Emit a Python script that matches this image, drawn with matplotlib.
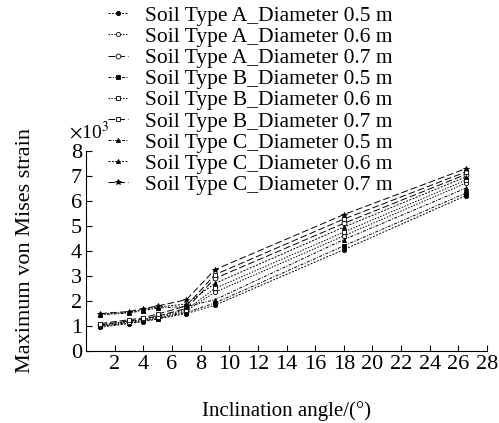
import matplotlib.pyplot as plt
import numpy as np

plt.rcParams['font.family'] = ['Liberation Serif', 'DejaVu Serif']
plt.rcParams['mathtext.fontset'] = 'stix'

angle = [1, 3, 4, 5, 7, 9, 18, 26.5]

# strain values (x10^3)
soil_a_05 = [0.95, 1.10, 1.18, 1.28, 1.50, 1.83, 4.05, 6.20]
soil_a_06 = [1.00, 1.15, 1.22, 1.33, 1.60, 2.35, 4.60, 6.70]
soil_a_07 = [1.05, 1.20, 1.28, 1.40, 1.70, 2.90, 5.10, 7.05]
soil_b_05 = [1.00, 1.12, 1.20, 1.30, 1.55, 1.92, 4.20, 6.30]
soil_b_06 = [1.05, 1.18, 1.27, 1.38, 1.65, 2.50, 4.75, 6.82]
soil_b_07 = [1.10, 1.25, 1.33, 1.48, 1.80, 3.05, 5.27, 7.15]
soil_c_05 = [1.45, 1.52, 1.62, 1.72, 1.78, 2.05, 4.45, 6.50]
soil_c_06 = [1.47, 1.55, 1.66, 1.76, 1.88, 2.70, 4.95, 6.95]
soil_c_07 = [1.50, 1.58, 1.70, 1.80, 2.05, 3.25, 5.45, 7.28]

labels = ['Soil Type A_Diameter 0.5 m', 'Soil Type A_Diameter 0.6 m', 'Soil Type A_Diameter 0.7 m',
          'Soil Type B_Diameter 0.5 m', 'Soil Type B_Diameter 0.6 m', 'Soil Type B_Diameter 0.7 m',
          'Soil Type C_Diameter 0.5 m', 'Soil Type C_Diameter 0.6 m', 'Soil Type C_Diameter 0.7 m']
series = [soil_a_05, soil_a_06, soil_a_07, soil_b_05, soil_b_06, soil_b_07,
          soil_c_05, soil_c_06, soil_c_07]

styles = [
    dict(ls=(0, (2, 1.5)), marker='o', mfc='black', ms=3),
    dict(ls=(0, (1.5, 1.5)), marker='o', mfc='white', ms=3),
    dict(ls=(0, (7, 3)), marker='o', mfc='white', ms=3.5),
    dict(ls=(0, (3, 1.5, 1, 1.5)), marker='s', mfc='black', ms=3),
    dict(ls=(0, (1.5, 1.5)), marker='s', mfc='white', ms=3),
    dict(ls=(0, (7, 3)), marker='s', mfc='white', ms=3.5),
    dict(ls=(0, (3, 1.5, 1, 1.5)), marker='^', mfc='black', ms=3),
    dict(ls=(0, (2, 1.5)), marker='^', mfc='black', ms=3),
    dict(ls=(0, (7, 3)), marker='*', mfc='black', ms=4),
]

fig = plt.figure(figsize=(4.99, 4.23), dpi=100)
ax = fig.add_axes([0.1723, 0.170, 0.8037, 0.4737])

for y, lab, st in zip(series, labels, styles):
    ax.plot(angle, y, color='black', lw=0.7, mec='black', mew=0.6, label=lab, **st)

ax.set_xlim(0, 28)
ax.set_ylim(0, 8)
ax.set_xticks(np.arange(2, 29, 2))
ax.set_yticks(np.arange(0, 9, 1))
ax.tick_params(direction='in', length=4, width=0.8, labelsize=16, pad=3)
ax.spines['top'].set_visible(False)
ax.spines['right'].set_visible(False)

ax.set_xlabel('Inclination angle/(°)', fontsize=15, labelpad=19)
ax.set_ylabel('Maximum von Mises strain', fontsize=16, labelpad=26)
fig.text(0.138, 0.662, r'$\times$10$^3$', fontsize=14, ha='left', va='bottom')

fig.legend(loc='upper left', bbox_to_anchor=(0.187, 1.022), frameon=False, fontsize=15.5,
           labelspacing=0.05, handlelength=0.9, handletextpad=0.8, borderpad=0.2)

fig.savefig('out.png', dpi=100)
